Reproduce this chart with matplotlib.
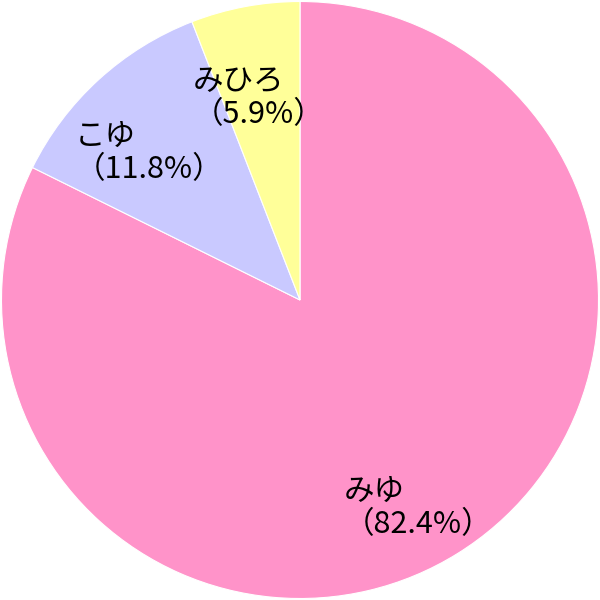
import numpy as np
import matplotlib.pyplot as plt

plt.rcParams['font.family'] = ['Noto Sans CJK JP', 'DejaVu Sans']

names = ["みゆ", "こゆ", "みひろ"]
shares = [82.4, 11.8, 5.9]
colors = ["#FF93C9", "#C9C9FF", "#FFFF99"]

fig = plt.figure(figsize=(6, 6), dpi=100)
ax = fig.add_axes([0, 0, 1, 1])

wedges, _ = ax.pie(shares, colors=colors, startangle=90, counterclock=False,
                   wedgeprops=dict(edgecolor="white", linewidth=0.8))

# first line sits on the 0.75r point, second line hangs below it
for w, name, s in zip(wedges, names, shares):
    theta = np.deg2rad((w.theta1 + w.theta2) / 2)
    x, y = 0.75 * np.cos(theta), 0.75 * np.sin(theta)
    ax.text(x, y - 0.06, f"{name}\n（{s}%）", ha="center", va="center",
            multialignment="left", fontsize=22, linespacing=1.1)

ax.set_xlim(-1.005, 1.005)
ax.set_ylim(-1.005, 1.005)
ax.set_aspect("equal")
ax.axis("off")

fig.savefig("out.png", dpi=100)
